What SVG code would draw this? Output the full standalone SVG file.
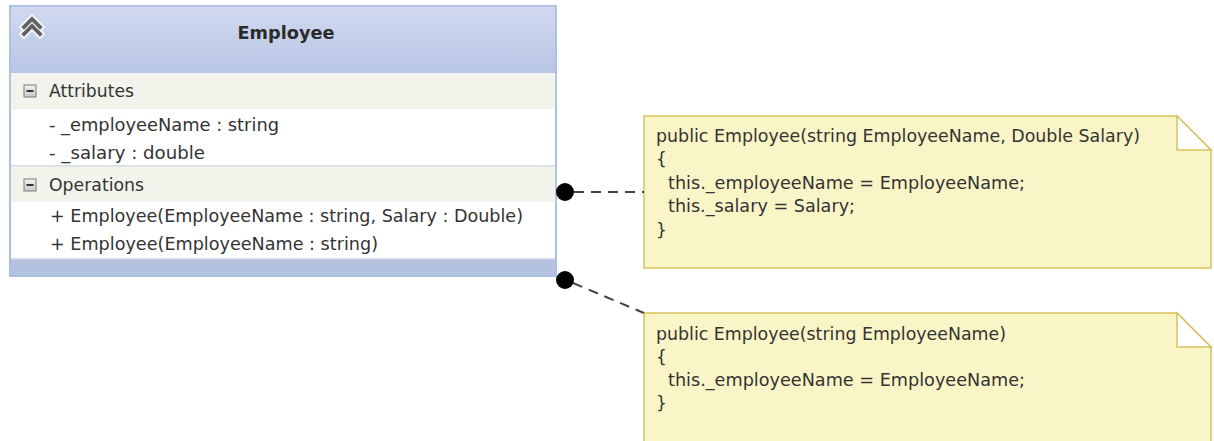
<svg xmlns="http://www.w3.org/2000/svg" width="1214" height="441" viewBox="0 0 1214 441">
  <style>
    text { font-family: "DejaVu Sans", Tahoma, "Liberation Sans", sans-serif; font-size: 17px; fill: #333333; }
    .title { font-weight: bold; font-size: 18px; fill: #2b2b2b; }
    .frame { fill: #ffffff; stroke: #8fabd9; stroke-width: 1.5; }
    .comp { fill: #f2f4ec; }
    .sep { stroke: #a9bde0; stroke-width: 1.2; }
    .note { fill: #faf5c6; stroke: #d6c25c; stroke-width: 1.5; }
    .fold { fill: #ffffff; stroke: #d6c25c; stroke-width: 1.5; stroke-linejoin: miter; }
    .link { stroke: #444444; stroke-width: 2; stroke-dasharray: 10 7; fill: none; }
    .dot { fill: #000000; }
  </style>
  <defs>
    <linearGradient id="hdr" x1="0" y1="0" x2="0" y2="1">
      <stop offset="0" stop-color="#d0d9ef"/>
      <stop offset="1" stop-color="#b8c5e4"/>
    </linearGradient>
    <linearGradient id="minusbox" x1="0" y1="0" x2="0" y2="1">
      <stop offset="0" stop-color="#f4f4f4"/>
      <stop offset="1" stop-color="#c9c9c9"/>
    </linearGradient>
  </defs>

  <!-- Employee class -->
  <g id="employee">
    <rect class="frame" x="10" y="6" width="546" height="270"/>
    <rect x="10.8" y="6.8" width="544.4" height="66.2" fill="url(#hdr)"/>
    <!-- collapse chevrons -->
    <g fill="none" stroke-linecap="square" stroke-linejoin="miter">
      <path d="M24 27 L32 19 L40 27 M24 34 L32 26 L40 34" stroke="#f4f6fb" stroke-width="7.5"/>
      <path d="M24 27 L32 19 L40 27 M24 34 L32 26 L40 34" stroke="#606060" stroke-width="3.8"/>
    </g>
    <text class="title" x="286" y="39" text-anchor="middle" textLength="97" lengthAdjust="spacingAndGlyphs">Employee</text>

    <!-- Attributes compartment -->
    <rect class="comp" x="10.8" y="73" width="544.4" height="36"/>
    <rect x="24" y="85" width="12" height="12" fill="url(#minusbox)" stroke="#7a7a7a" stroke-width="1"/>
    <rect x="26.5" y="90" width="7" height="2" fill="#333333"/>
    <text x="49" y="97" textLength="85" lengthAdjust="spacingAndGlyphs">Attributes</text>
    <text x="49" y="131" textLength="230" lengthAdjust="spacingAndGlyphs">- _employeeName : string</text>
    <text x="49" y="159" textLength="156" lengthAdjust="spacingAndGlyphs">- _salary : double</text>

    <!-- Operations compartment -->
    <line class="sep" x1="10.8" y1="166" x2="555.2" y2="166"/>
    <rect class="comp" x="10.8" y="166.6" width="544.4" height="35.4"/>
    <rect x="24" y="179" width="12" height="12" fill="url(#minusbox)" stroke="#7a7a7a" stroke-width="1"/>
    <rect x="26.5" y="184" width="7" height="2" fill="#333333"/>
    <text x="49" y="191" textLength="95" lengthAdjust="spacingAndGlyphs">Operations</text>
    <text x="50" y="222" textLength="473" lengthAdjust="spacingAndGlyphs">+ Employee(EmployeeName : string, Salary : Double)</text>
    <text x="50" y="250" textLength="328" lengthAdjust="spacingAndGlyphs">+ Employee(EmployeeName : string)</text>

    <!-- bottom band -->
    <line class="sep" x1="10.8" y1="259" x2="555.2" y2="259"/>
    <rect x="10.8" y="259.6" width="544.4" height="15.6" fill="#b4c1df"/>
  </g>

  <!-- Note for the two-argument constructor -->
  <g id="note-ctor-full">
    <path class="note" d="M644 116 H1177 L1211 150 V268 H644 Z"/>
    <path class="fold" d="M1177 116 V150 H1211 Z"/>
    <text x="656" y="142" textLength="484" lengthAdjust="spacingAndGlyphs">public Employee(string EmployeeName, Double Salary)</text>
    <text x="656" y="165">{</text>
    <text x="668" y="189" textLength="357" lengthAdjust="spacingAndGlyphs">this._employeeName = EmployeeName;</text>
    <text x="668" y="212" textLength="187" lengthAdjust="spacingAndGlyphs">this._salary = Salary;</text>
    <text x="656" y="236">}</text>
  </g>

  <!-- Note for the one-argument constructor -->
  <g id="note-ctor-name">
    <path class="note" d="M644 313 H1177 L1211 347 V445 H644 Z"/>
    <path class="fold" d="M1177 313 V347 H1211 Z"/>
    <text x="656" y="340" textLength="350" lengthAdjust="spacingAndGlyphs">public Employee(string EmployeeName)</text>
    <text x="656" y="363">{</text>
    <text x="668" y="386" textLength="357" lengthAdjust="spacingAndGlyphs">this._employeeName = EmployeeName;</text>
    <text x="656" y="409">}</text>
  </g>

  <!-- Note attachments -->
  <g id="connectors">
    <line class="link" x1="574" y1="192" x2="644" y2="192"/>
    <circle class="dot" cx="565" cy="192" r="9"/>
    <line class="link" x1="573" y1="283" x2="644" y2="313"/>
    <circle class="dot" cx="565" cy="280" r="9"/>
  </g>
</svg>
